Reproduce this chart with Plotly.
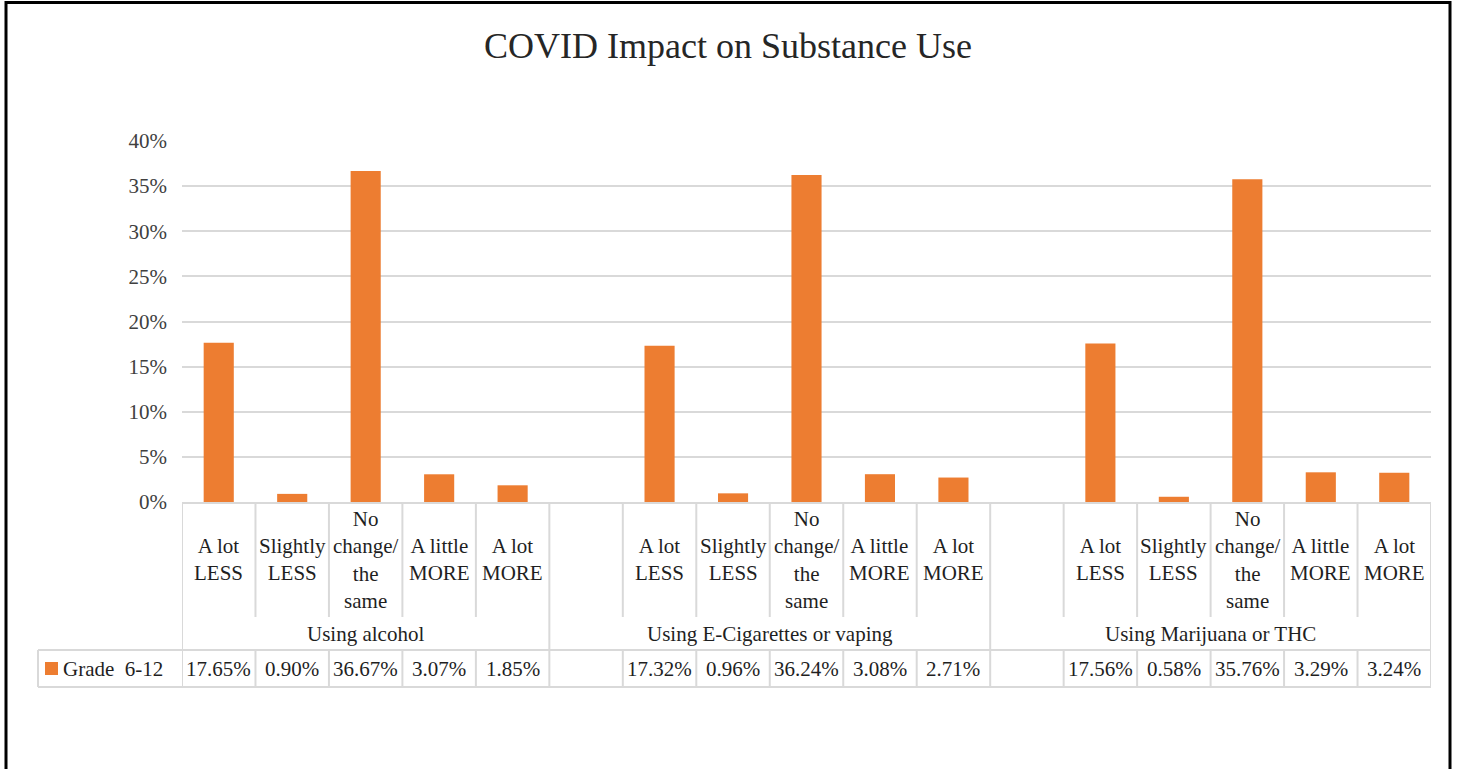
import plotly.graph_objects as go

groups = ["Using alcohol", "Using E-Cigarettes or vaping", "Using Marijuana or THC"]
responses = ["A lot<br>LESS", "Slightly<br>LESS", "No<br>change/<br>the<br>same",
             "A little<br>MORE", "A lot<br>MORE"]
alcohol = [17.65, 0.90, 36.67, 3.07, 1.85]
vaping = [17.32, 0.96, 36.24, 3.08, 2.71]
marijuana = [17.56, 0.58, 35.76, 3.29, 3.24]
series_name = "Grade  6-12"

values_per_group = [alcohol, vaping, marijuana]

FONT = "Liberation Serif"
GRID = "#D9D9D9"
ORANGE = "#ED7D31"
W, H = 1457, 769
L, R, T, B = 182, 1431, 141, 502  # plot area in pixels


def px_x(px):
    return (px - L) / (R - L)


def px_y(py):
    return (B - py) / (B - T)


# each group takes 5 slots, with one empty slot in front of groups 2 and 3
xs, ys, labels = [], [], []
for g, vals in enumerate(values_per_group):
    for i, v in enumerate(vals):
        xs.append(6 * g + i)
        ys.append(v / 100)
        labels.append(responses[i])
n_slots = 6 * (len(groups) - 1) + len(responses)

fig = go.Figure(go.Bar(x=xs, y=ys, width=0.41, marker_color=ORANGE,
                       marker_line_width=0, showlegend=False,
                       hovertemplate="%{y:.2%}<extra></extra>"))

shapes = []
annotations = []
line = dict(color=GRID, width=2)

row_cat = (502, 617)
row_grp = (617, 650)
row_val = (650, 687)

# category row and value row: line at every slot boundary
for k in range(n_slots + 1):
    for top, bot in (row_cat, row_val):
        shapes.append(dict(type="line", xref="x", yref="paper", x0=k - 0.5, x1=k - 0.5,
                           y0=px_y(top), y1=px_y(bot), line=line))
# group row: only group boundaries
for xb in [-0.5, 4.5, 10.5, 16.5]:
    shapes.append(dict(type="line", xref="x", yref="paper", x0=xb, x1=xb,
                       y0=px_y(row_grp[0]), y1=px_y(row_grp[1]), line=line))
# left edge of legend cell and horizontal lines of value row
shapes.append(dict(type="line", xref="paper", yref="paper", x0=px_x(38), x1=px_x(38),
                   y0=px_y(row_val[0]), y1=px_y(row_val[1]), line=line))
for yb in row_val:
    shapes.append(dict(type="line", xref="paper", yref="paper", x0=px_x(38), x1=1,
                       y0=px_y(yb), y1=px_y(yb), line=line))

# legend key
shapes.append(dict(type="rect", xref="paper", yref="paper", x0=px_x(45), x1=px_x(58),
                   y0=px_y(675), y1=px_y(662), fillcolor=ORANGE, line_width=0))

# outer frame (bottom runs off the picture)
shapes.append(dict(type="path", xref="paper", yref="paper",
                   path=f"M {px_x(6)},{px_y(790)} L {px_x(6)},{px_y(2.5)} "
                        f"L {px_x(1450)},{px_y(2.5)} L {px_x(1450)},{px_y(790)}",
                   line=dict(color="black", width=3)))

tfont = dict(family=FONT, size=21, color="#1f1f1f")
for x, lab, v in zip(xs, labels, ys):
    annotations.append(dict(x=x, y=px_y(559.5), xref="x", yref="paper", text=lab,
                            showarrow=False, font=tfont, yanchor="middle"))
    annotations.append(dict(x=x, y=px_y(669), xref="x", yref="paper", text=f"{v * 100:.2f}%",
                            showarrow=False, font=tfont, yanchor="middle"))
for g, name in enumerate(groups):
    lo = -0.5 if g == 0 else 6 * g - 1.5
    hi = 6 * g + 4.5
    annotations.append(dict(x=(lo + hi) / 2, y=px_y(633.5), xref="x", yref="paper", text=name,
                            showarrow=False, font=tfont, yanchor="middle"))
annotations.append(dict(x=px_x(61), y=px_y(669), xref="paper", yref="paper", text=series_name,
                        showarrow=False, font=tfont, xanchor="left", yanchor="middle"))
annotations.append(dict(x=px_x(728), y=px_y(46), xref="paper", yref="paper",
                        text="COVID Impact on Substance Use", showarrow=False,
                        xanchor="center", yanchor="middle",
                        font=dict(family=FONT, size=36, color="#262626")))

fig.update_layout(
    width=W, height=H,
    margin=dict(l=L, r=W - R, t=T, b=H - B),
    paper_bgcolor="white", plot_bgcolor="white",
    font=dict(family=FONT),
    xaxis=dict(range=[-0.5, n_slots - 0.5], showticklabels=False, showgrid=False,
               zeroline=False, showline=True, linecolor=GRID, linewidth=2, fixedrange=True),
    yaxis=dict(range=[0, 0.40], dtick=0.05, tickformat=".0%", showgrid=True, gridcolor=GRID,
               gridwidth=2, zeroline=False, showline=False, ticks="", ticklabelstandoff=14,
               tickfont=dict(family=FONT, size=21, color="#404040"), fixedrange=True),
    shapes=shapes,
    annotations=annotations,
    bargap=0.59,
)

# drop the browser's default page margin so the figure fills the window
fig.write_html("out.html", config={"displayModeBar": False},
               post_script="document.body.style.margin = '0'; document.body.style.overflow = 'hidden';")
